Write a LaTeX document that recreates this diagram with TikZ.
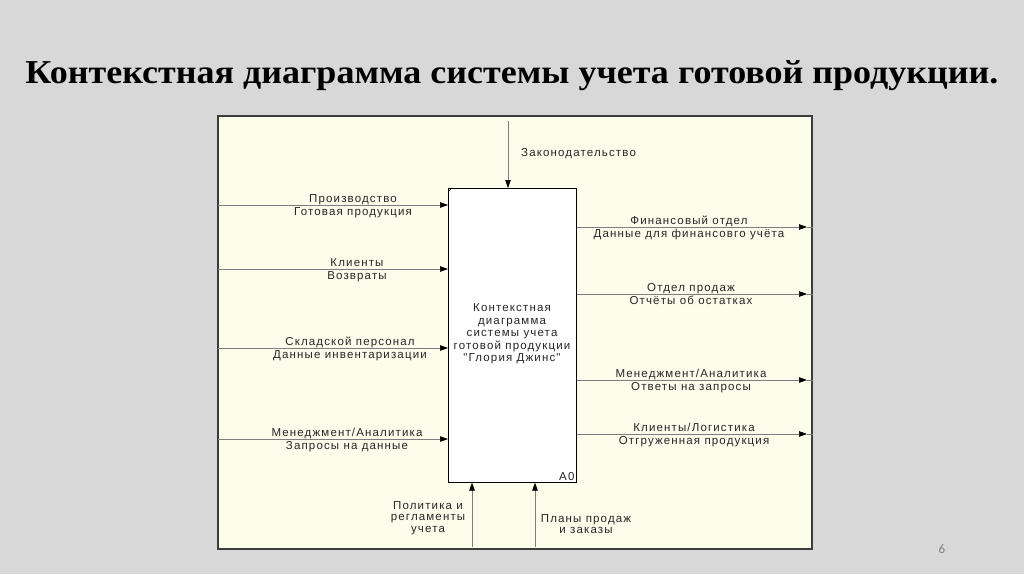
\documentclass[tikz,border=0pt]{standalone}
\usepackage{fontspec}
\setmainfont{Liberation Serif}
\newfontfamily\lbl{Liberation Sans}[LetterSpace=10,Ligatures=TeXOff]
\newfontfamily\pgfont{Carlito}
\usetikzlibrary{arrows.meta}
\definecolor{bg}{RGB}{216,216,216}
\definecolor{cream}{RGB}{253,253,236}
\definecolor{framecol}{RGB}{60,60,60}
\definecolor{linecol}{RGB}{125,125,125}
% two-line arrow label: name, centre x, line y, upper text, lower text
\newcommand\iolab[5]{%
  \node[lab, anchor=base] (#1a) at (#2,#3-3) {#4};
  \node[lab, anchor=base] (#1b) at (#2,#3+10) {#5};}
\begin{document}
\begin{tikzpicture}[x=1pt,y=-1pt,
  arr/.style={draw=linecol, line width=0.7pt, -{Triangle[length=8pt,width=5.5pt,fill=black,color=black]}},
  lab/.style={font=\lbl\fontsize{11.5}{11.5}\selectfont, align=center, inner sep=0pt, text=black!85},
]
\fill[bg] (0,0) rectangle (1024,574);
\useasboundingbox (0,0) rectangle (1024,574);
\node[inner sep=0pt, anchor=base] (title) at (512,83) {\resizebox{973pt}{23pt}{\bfseries\fontsize{33}{36}\selectfont Контекстная диаграмма системы учета готовой продукции.}};
\node[draw=framecol, fill=cream, line width=1.6pt, minimum width=594pt, minimum height=433pt, anchor=north west, inner sep=0pt] (frame) at (217,115) {};
\node[draw=black, fill=white, line width=0.6pt, minimum width=128pt, minimum height=294pt, anchor=north west, inner sep=0pt] (a0) at (448,188) {};
\draw[line width=0.5pt] ([yshift=-4pt]a0.north west) -- ([xshift=4pt]a0.north west);
\node[lab, font=\lbl\fontsize{11.5}{12.5}\selectfont] (a0txt) at (512,334) {Контекстная\\диаграмма\\системы учета\\готовой продукции\\"Глория Джинс"};
\node[lab, anchor=south east, inner sep=2pt] (a0num) at (a0.south east) {A0};
% top control
\coordinate (t) at (508,121);
\draw[arr] (t) -- (t |- a0.north);
\node[lab, anchor=base west] (tl) at (521,156) {Законодательство};
% left inputs
\coordinate (l1) at (218,205);
\coordinate (l2) at (218,269);
\coordinate (l3) at (218,348);
\coordinate (l4) at (218,439);
\draw[arr] (l1) -- (l1 -| a0.west);
\draw[arr] (l2) -- (l2 -| a0.west);
\draw[arr] (l3) -- (l3 -| a0.west);
\draw[arr] (l4) -- (l4 -| a0.west);
\iolab{ll1}{353}{205}{Производство}{Готовая продукция}
\iolab{ll2}{357}{269}{Клиенты}{Возвраты}
\iolab{ll3}{350}{348}{Складской персонал}{Данные инвентаризации}
\iolab{ll4}{347}{439}{Менеджмент/Аналитика}{Запросы на данные}
% right outputs
\coordinate (r1) at (807,227);
\coordinate (r2) at (807,294);
\coordinate (r3) at (807,380);
\coordinate (r4) at (807,434);
\draw[arr] (r1 -| a0.east) -- (r1);
\draw[arr] (r2 -| a0.east) -- (r2);
\draw[arr] (r3 -| a0.east) -- (r3);
\draw[arr] (r4 -| a0.east) -- (r4);
\draw[linecol, line width=0.7pt] (r1) -- (r1 -| frame.east) (r2) -- (r2 -| frame.east) (r3) -- (r3 -| frame.east) (r4) -- (r4 -| frame.east);
\iolab{rl1}{689}{227}{Финансовый отдел}{Данные для финансовго учёта}
\iolab{rl2}{691}{294}{Отдел продаж}{Отчёты об остатках}
\iolab{rl3}{691}{380}{Менеджмент/Аналитика}{Ответы на запросы}
\iolab{rl4}{694}{434}{Клиенты/Логистика}{Отгруженная продукция}
% bottom mechanisms
\coordinate (b1) at (472,547);
\coordinate (b2) at (535,547);
\draw[arr] (b1) -- (b1 |- a0.south);
\draw[arr] (b2) -- (b2 |- a0.south);
\node[lab] (bl1) at (428,518) {Политика и\\регламенты\\учета};
\node[lab] (bl2) at (586,524) {Планы продаж\\и заказы};
\node[text=gray, font=\pgfont\fontsize{13}{15}\selectfont, inner sep=0pt] (pg) at (942,549) {6};
\end{tikzpicture}
\end{document}
